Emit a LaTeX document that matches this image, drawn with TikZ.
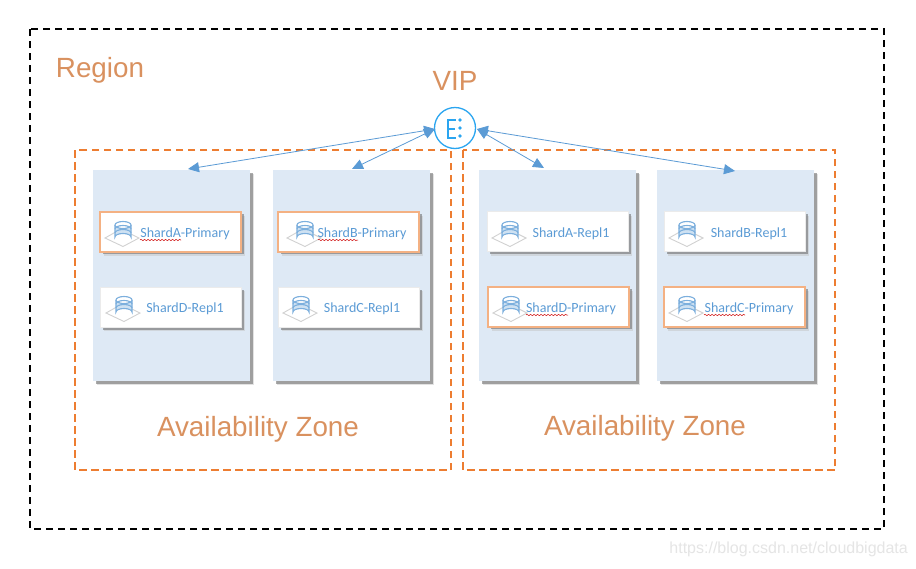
\documentclass[tikz,border=0pt]{standalone}
\usepackage{fontspec}
\setmainfont{Carlito}
\newfontfamily\armfont{Liberation Sans}
\usetikzlibrary{positioning, shadows, arrows.meta, decorations.pathmorphing}
\definecolor{zoneorange}{HTML}{ED7D31}
\definecolor{labelorange}{HTML}{D9915F}
\definecolor{colblue}{HTML}{DEE9F5}
\definecolor{linkblue}{HTML}{5B9BD5}
\definecolor{vipblue}{HTML}{2AA5F0}
\definecolor{primborder}{HTML}{F4B183}
\tikzset{
  regionbox/.style={draw=black, line width=2pt, dash pattern=on 7pt off 5pt},
  zonebox/.style={draw=zoneorange, line width=2.2pt, dash pattern=on 7.5pt off 4.5pt},
  bigtext/.style={text=labelorange, font=\armfont\fontsize{27.8}{27.8}\selectfont},
  softshadow/.style={
    drop shadow={shadow xshift=4pt, shadow yshift=-4pt, fill=black!25, opacity=.45},
    drop shadow={shadow xshift=2.5pt, shadow yshift=-2.5pt, fill=black!55, opacity=.6}},
  colbox/.style={fill=colblue, minimum width=157pt, minimum height=211pt, inner sep=0pt, softshadow},
  replcard/.style={fill=white, draw=black!8, line width=.8pt, minimum width=141pt, minimum height=40pt, inner sep=0pt, softshadow},
  primcard/.style={replcard, draw=primborder, line width=2pt},
  cardtext/.style={text=linkblue, font=\fontsize{14}{14}\selectfont, inner sep=0pt},
  link/.style={linkblue, line width=.8pt, {Triangle[length=11pt,width=10pt]}-{Triangle[length=11pt,width=10pt]}},
  squiggle/.style={red!80!black, line width=.5pt, decorate, decoration={snake, amplitude=.7pt, segment length=3.5pt}}
}
% database icon on its little plate
\newcommand{\dbicon}[1]{
  \begin{scope}[shift={(#1)}]
    \draw[black!18, fill=white, line width=.9pt] (-18,7) -- (-2,-2) -- (16,7) -- (0,15.5) -- cycle;
    \draw[linkblue!80, fill=linkblue!30, line width=1.1pt] (-8,-6) -- (-8,6) arc[start angle=180, end angle=360, x radius=8, y radius=3.5] -- (8,-6);
    \draw[linkblue!80, fill=white, line width=1.1pt] (0,-6) ellipse[x radius=8, y radius=3.5];
    \draw[linkblue!80, line width=1.1pt] (-8,-2) arc[start angle=180, end angle=360, x radius=8, y radius=3.5];
    \draw[linkblue!80, line width=1.1pt] (-8,2) arc[start angle=180, end angle=360, x radius=8, y radius=3.5];
  \end{scope}
}
\begin{document}
\begin{tikzpicture}[x=1pt, y=-1pt]
  \useasboundingbox (0,0) rectangle (916,568);
  \fill[white] (0,0) rectangle (916,568);
  \draw[regionbox] (30,29) rectangle (884,529);
  \draw[zonebox] (75,150) rectangle (451,470);
  \draw[zonebox] (463,150) rectangle (835,470);
  \node[bigtext] (region) at (100,70) {Region};
  \node[bigtext] (viplabel) at (455,81) {VIP};
  \node[bigtext] (zoneL) at (258,429) {Availability Zone};
  \node[bigtext] (zoneR) at (645,428) {Availability Zone};
  % columns
  \node[colbox] (colA) at (171.5,275.5) {};
  \node[colbox] (colB) at (351.5,275.5) {};
  \node[colbox] (colC) at (557.5,275.5) {};
  \node[colbox] (colD) at (735.5,275.5) {};
  % cards
  \node[primcard] (cardA) at (170.5,231.5) {};
  \node[replcard] (cardB) at (170.5,307) {};
  \node[primcard] (cardC) at (348.5,231.5) {};
  \node[replcard] (cardD) at (348.5,307) {};
  \node[replcard] (cardE) at (557.5,231.5) {};
  \node[primcard] (cardF) at (558.5,306.5) {};
  \node[replcard] (cardG) at (734.5,231.5) {};
  \node[primcard] (cardH) at (734.5,306.5) {};
  \dbicon{123,231} \dbicon{124,306} \dbicon{305,231} \dbicon{301,306}
  \dbicon{510,231} \dbicon{511,306} \dbicon{687,231} \dbicon{687,306}
  \node[cardtext] (txtA) at (185,234) {ShardA-Primary};
  \node[cardtext] (txtB) at (185,308.5) {ShardD-Repl1};
  \node[cardtext] (txtC) at (362,234) {ShardB-Primary};
  \node[cardtext] (txtD) at (362,308.5) {ShardC-Repl1};
  \node[cardtext] (txtE) at (571,234) {ShardA-Repl1};
  \node[cardtext] (txtF) at (571,308.5) {ShardD-Primary};
  \node[cardtext] (txtG) at (749,234) {ShardB-Repl1};
  \node[cardtext] (txtH) at (749,308.5) {ShardC-Primary};
  \draw[squiggle] (140,240) -- (181,240);
  \draw[squiggle] (318,240) -- (358,240);
  \draw[squiggle] (526,315) -- (568,315);
  \draw[squiggle] (704,315) -- (745,315);
  % vip
  \node[circle, draw=vipblue, fill=white, line width=1.3pt, minimum size=41pt, inner sep=0pt] (vip) at (455,128) {};
  \draw[vipblue, line width=1.2pt] (456,120) -- (448,120) -- (448,138) -- (456,138) (448,129) -- (455,129);
  \foreach \dy in {120,128,136} \fill[vipblue] (460,\dy) circle (1.9);
  % arrows
  \coordinate (vipW) at (435,129);
  \coordinate (vipE) at (477,129);
  \coordinate (endA) at (188,169);
  \coordinate (endB) at (352,169);
  \coordinate (endC) at (544,168);
  \coordinate (endD) at (735,171);
  \draw[link] (vipW) -- (endA);
  \draw[link] (vipW) -- (endB);
  \draw[link] (vipE) -- (endC);
  \draw[link] (vipE) -- (endD);
  \node[text=black!10, font=\armfont\fontsize{16}{16}\selectfont, anchor=east, inner sep=0pt] (mark) at (908,549) {https://blog.csdn.net/cloudbigdata};
\end{tikzpicture}
\end{document}
